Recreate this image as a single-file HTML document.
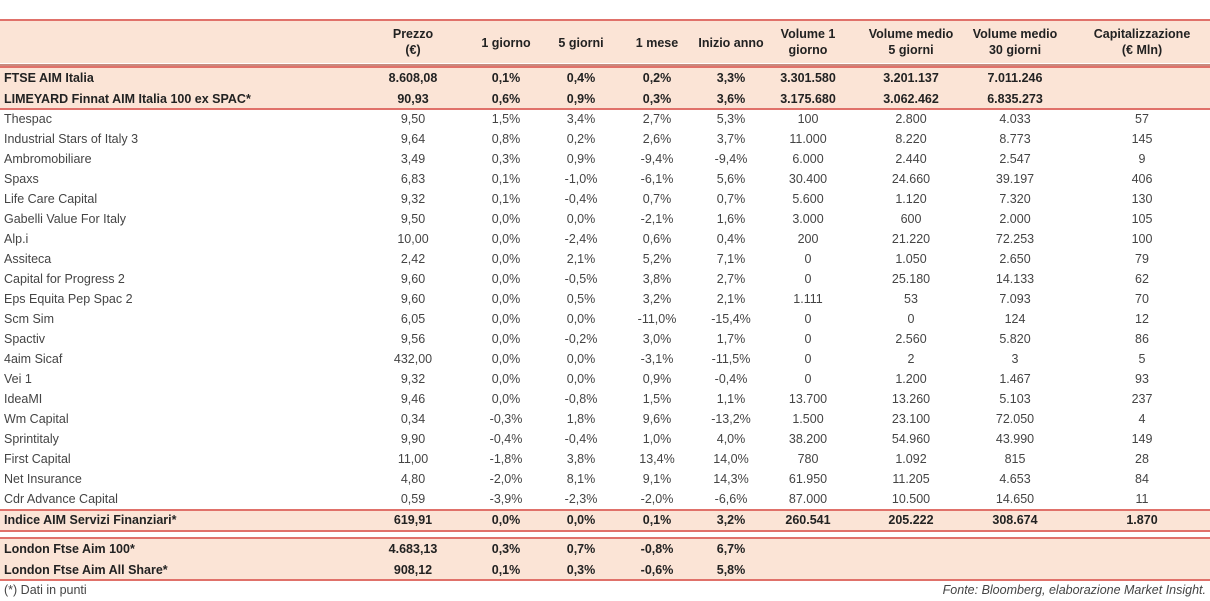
<!DOCTYPE html>
<html><head><meta charset="utf-8"><style>
body{margin:0;width:1210px;height:601px;background:#fff;font-family:"Liberation Sans",sans-serif;color:#444;position:relative;overflow:hidden}
.bg{position:absolute;left:0;width:1210px;background:#fbe4d6}
.ln{position:absolute;left:0;width:1210px;background:#e0716a}
.t{position:absolute;font-size:12.5px;white-space:nowrap;line-height:14px}
.b{font-weight:bold;color:#222}
.h{line-height:16px}
.c{transform:translateX(-50%);text-align:center}
</style></head><body>
<div class="bg" style="top:21px;height:42px"></div>
<div class="bg" style="top:67px;height:41px"></div>
<div class="bg" style="top:510px;height:20px"></div>
<div class="bg" style="top:539px;height:41px"></div>
<div class="ln" style="top:19px;height:2px"></div>
<div class="ln" style="top:64px;height:2px;background:#c98a7e"></div>
<div class="ln" style="top:66px;height:2px"></div>
<div class="ln" style="top:108px;height:2px"></div>
<div class="ln" style="top:509px;height:2px"></div>
<div class="ln" style="top:530px;height:2px"></div>
<div class="ln" style="top:537px;height:2px"></div>
<div class="ln" style="top:579px;height:2px"></div>
<div class="t" style="left:4px;top:583px">(*) Dati in punti</div>
<div class="t" style="right:4px;top:583px;font-style:italic">Fonte: Bloomberg, elaborazione Market Insight.</div>
<script>
const headers=[["Prezzo","(€)"],["1 giorno"],["5 giorni"],["1 mese"],["Inizio anno"],["Volume 1","giorno"],["Volume medio","5 giorni"],["Volume medio","30 giorni"],["Capitalizzazione","(€ Mln)"]];
const colX=[413,506,581,657,731,808,911,1015,1142];
const rows=[
["FTSE AIM Italia","8.608,08","0,1%","0,4%","0,2%","3,3%","3.301.580","3.201.137","7.011.246",""],
["LIMEYARD Finnat AIM Italia 100 ex SPAC*","90,93","0,6%","0,9%","0,3%","3,6%","3.175.680","3.062.462","6.835.273",""],
["Thespac","9,50","1,5%","3,4%","2,7%","5,3%","100","2.800","4.033","57"],
["Industrial Stars of Italy 3","9,64","0,8%","0,2%","2,6%","3,7%","11.000","8.220","8.773","145"],
["Ambromobiliare","3,49","0,3%","0,9%","-9,4%","-9,4%","6.000","2.440","2.547","9"],
["Spaxs","6,83","0,1%","-1,0%","-6,1%","5,6%","30.400","24.660","39.197","406"],
["Life Care Capital","9,32","0,1%","-0,4%","0,7%","0,7%","5.600","1.120","7.320","130"],
["Gabelli Value For Italy","9,50","0,0%","0,0%","-2,1%","1,6%","3.000","600","2.000","105"],
["Alp.i","10,00","0,0%","-2,4%","0,6%","0,4%","200","21.220","72.253","100"],
["Assiteca","2,42","0,0%","2,1%","5,2%","7,1%","0","1.050","2.650","79"],
["Capital for Progress 2","9,60","0,0%","-0,5%","3,8%","2,7%","0","25.180","14.133","62"],
["Eps Equita Pep Spac 2","9,60","0,0%","0,5%","3,2%","2,1%","1.111","53","7.093","70"],
["Scm Sim","6,05","0,0%","0,0%","-11,0%","-15,4%","0","0","124","12"],
["Spactiv","9,56","0,0%","-0,2%","3,0%","1,7%","0","2.560","5.820","86"],
["4aim Sicaf","432,00","0,0%","0,0%","-3,1%","-11,5%","0","2","3","5"],
["Vei 1","9,32","0,0%","0,0%","0,9%","-0,4%","0","1.200","1.467","93"],
["IdeaMI","9,46","0,0%","-0,8%","1,5%","1,1%","13.700","13.260","5.103","237"],
["Wm Capital","0,34","-0,3%","1,8%","9,6%","-13,2%","1.500","23.100","72.050","4"],
["Sprintitaly","9,90","-0,4%","-0,4%","1,0%","4,0%","38.200","54.960","43.990","149"],
["First Capital","11,00","-1,8%","3,8%","13,4%","14,0%","780","1.092","815","28"],
["Net Insurance","4,80","-2,0%","8,1%","9,1%","14,3%","61.950","11.205","4.653","84"],
["Cdr Advance Capital","0,59","-3,9%","-2,3%","-2,0%","-6,6%","87.000","10.500","14.650","11"],
["Indice AIM Servizi Finanziari*","619,91","0,0%","0,0%","0,1%","3,2%","260.541","205.222","308.674","1.870"],
["London Ftse Aim 100*","4.683,13","0,3%","0,7%","-0,8%","6,7%","","","",""],
["London Ftse Aim All Share*","908,12","0,1%","0,3%","-0,6%","5,8%","","","",""]];
const rowY=[71,92,112,132,152,172,192,212,232,252,272,292,312,332,352,372,392,412,432,452,472,492,513,542,563];
const boldRows=[0,1,22,23,24];
function add(txt,l,t,cls,name){const d=document.createElement('div');d.className='t '+cls;d.style.left=l+'px';d.style.top=t+'px';d.innerHTML=txt;


document.body.appendChild(d);}
headers.forEach((h,i)=>{const top=h.length>1?26:35;add(h.join('<br>'),colX[i],top,'b c h','header-'+i);});
rows.forEach((r,ri)=>{const b=boldRows.includes(ri)?'b ':'';
add(r[0],4,rowY[ri],b,'row-label');
for(let i=1;i<r.length;i++){if(r[i]!=='')add(r[i],colX[i-1],rowY[ri],b+'c','cell');}});
</script>
</body></html>
